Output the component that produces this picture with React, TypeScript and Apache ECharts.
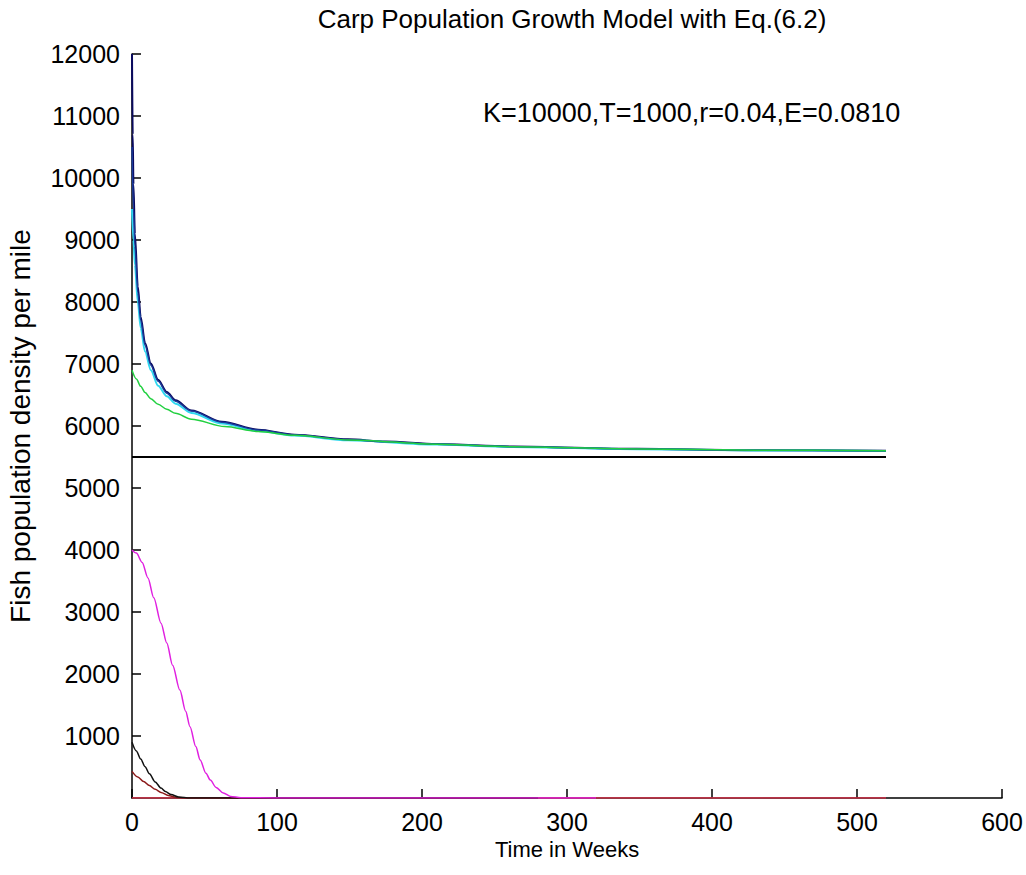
import React, { useEffect, useRef } from "react";
import * as echarts from "echarts";

const titleText = "Carp Population Growth Model with Eq.(6.2)";
const noteText = "K=10000,T=1000,r=0.04,E=0.0810";
const xLabel = "Time in Weeks";
const yLabel = "Fish population density per mile";

// weeks and densities
const navyT = [0, 0.5, 1, 2, 4, 6, 9, 13, 18, 24, 30, 41, 62, 87, 112, 149, 175, 210, 263, 348, 430, 520];
const navyV = [12000, 10700, 9900, 9100, 8250, 7760, 7340, 7010, 6745, 6550, 6415, 6250, 6068, 5940, 5860, 5785, 5750, 5710, 5670, 5632, 5610, 5600];

const blueT = [0, 1, 2, 4, 6, 9, 13, 18, 24, 30, 41, 62, 87, 112, 149, 175, 210, 263, 348, 430, 520];
const blueV = [10500, 9500, 8900, 8150, 7700, 7300, 6980, 6720, 6530, 6400, 6240, 6060, 5935, 5855, 5780, 5745, 5705, 5666, 5629, 5608, 5598];

const cyanT = [0, 1, 2, 4, 6, 9, 13, 18, 24, 30, 41, 62, 87, 112, 149, 210, 263, 348, 430, 520];
const cyanV = [9500, 9000, 8600, 8000, 7580, 7200, 6900, 6650, 6480, 6360, 6210, 6040, 5920, 5845, 5770, 5700, 5662, 5626, 5606, 5596];

const greenT = [0, 3, 6, 9, 13, 18, 24, 30, 41, 64, 87, 112, 150, 210, 263, 348, 430, 520];
const greenV = [6900, 6760, 6640, 6540, 6440, 6350, 6270, 6205, 6110, 5990, 5910, 5850, 5775, 5705, 5666, 5630, 5610, 5600];

const equilT = [0, 520];
const equilV = [5500, 5500];

const magentaT = [0, 3, 7, 11, 15, 20, 24, 28, 33, 37, 40, 44, 47, 51, 54, 58, 63, 68, 75, 100, 320];
const magentaV = [4000, 3950, 3800, 3550, 3230, 2820, 2500, 2140, 1740, 1400, 1150, 830, 613, 400, 290, 170, 80, 25, 5, 0, 0];

const blackT = [0, 3, 6, 9, 12, 16, 20, 23, 27, 32, 40, 280];
const blackV = [900, 760, 630, 505, 390, 260, 160, 105, 55, 18, 0, 0];

const darkRedT = [0, 4, 8, 12, 16, 20, 25, 30, 40, 280];
const darkRedV = [430, 340, 265, 200, 140, 90, 42, 12, 0, 0];

const redT = [0, 520];
const redV = [0, 0];

const xTicks = [0, 100, 200, 300, 400, 500, 600];
const yTicks = [0, 1000, 2000, 3000, 4000, 5000, 6000, 7000, 8000, 9000, 10000, 11000, 12000];

const zip = (t: number[], v: number[]) => t.map((x, i) => [x, v[i]]);

export default function App() {
  const ref = useRef<HTMLDivElement>(null);
  useEffect(() => {
    if (!ref.current) return;
    const chart = echarts.init(ref.current, null, { renderer: "svg" });
    const font = "Liberation Sans, Arial, sans-serif";
    const mk = (name: string, t: number[], v: number[], color: string, z: number, width = 1.5) => ({
      name,
      type: "line",
      data: zip(t, v),
      showSymbol: false,
      smooth: 0.3,
      smoothMonotone: "x",
      lineStyle: { color, width },
      z,
    });
    chart.setOption({
      animation: false,
      backgroundColor: "#ffffff",
      title: {
        text: titleText,
        left: 567,
        textAlign: "center",
        top: 1,
        textStyle: { fontFamily: font, fontSize: 26, fontWeight: "normal", color: "#000" },
      },
      grid: {
        left: 132,
        right: 24,
        top: 54,
        bottom: 77,
        containLabel: false,
        outerBoundsMode: "none",
      },
      xAxis: {
        type: "value",
        min: xTicks[0],
        max: xTicks[xTicks.length - 1],
        interval: 100,
        name: xLabel,
        nameLocation: "middle",
        nameGap: 40,
        nameTextStyle: { fontFamily: font, fontSize: 22, color: "#000" },
        axisLine: { show: true, lineStyle: { color: "#000", width: 1.5 } },
        axisTick: { show: true, inside: true, length: 9, lineStyle: { color: "#000", width: 1.5 } },
        axisLabel: {
          fontFamily: font,
          fontSize: 25,
          color: "#000",
          margin: 11,
          formatter: (v: number) => String(v),
        },
        splitLine: { show: false },
      },
      yAxis: {
        type: "value",
        min: yTicks[0],
        max: yTicks[yTicks.length - 1],
        interval: 1000,
        name: yLabel,
        nameLocation: "middle",
        nameGap: 98,
        nameRotate: 90,
        nameTextStyle: { fontFamily: font, fontSize: 28, color: "#000" },
        axisLine: { show: true, onZero: false, lineStyle: { color: "#000", width: 1.5 } },
        axisTick: { show: true, inside: true, length: 9, lineStyle: { color: "#000", width: 1.5 } },
        axisLabel: {
          fontFamily: font,
          fontSize: 25,
          color: "#000",
          margin: 12,
          showMinLabel: false,
          formatter: (v: number) => String(v),
        },
        splitLine: { show: false },
      },
      graphic: [
        {
          type: "text",
          left: 483,
          top: 99,
          style: { text: noteText, font: `27px ${font}`, fill: "#000" },
        },
      ],
      series: [
        mk("equilibrium", equilT, equilV, "#000000", 2, 2),
        mk("red", redT, redV, "#e0304a", 2),
        mk("darkred", darkRedT, darkRedV, "#8b1a1a", 3),
        mk("black", blackT, blackV, "#111111", 3),
        mk("magenta", magentaT, magentaV, "#e020e0", 4),
        mk("navy", navyT, navyV, "#0a0a60", 3, 2),
        mk("cyan", cyanT, cyanV, "#30d8f0", 4, 2),
        mk("blue", blueT, blueV, "#1a3a9a", 5),
        mk("green", greenT, greenV, "#22d040", 6),
      ],
    });
    return () => chart.dispose();
  }, []);
  return (
    <div
      ref={ref}
      style={{ position: "fixed", left: 0, top: 0, width: 1026, height: 875, background: "#fff" }}
    />
  );
}
